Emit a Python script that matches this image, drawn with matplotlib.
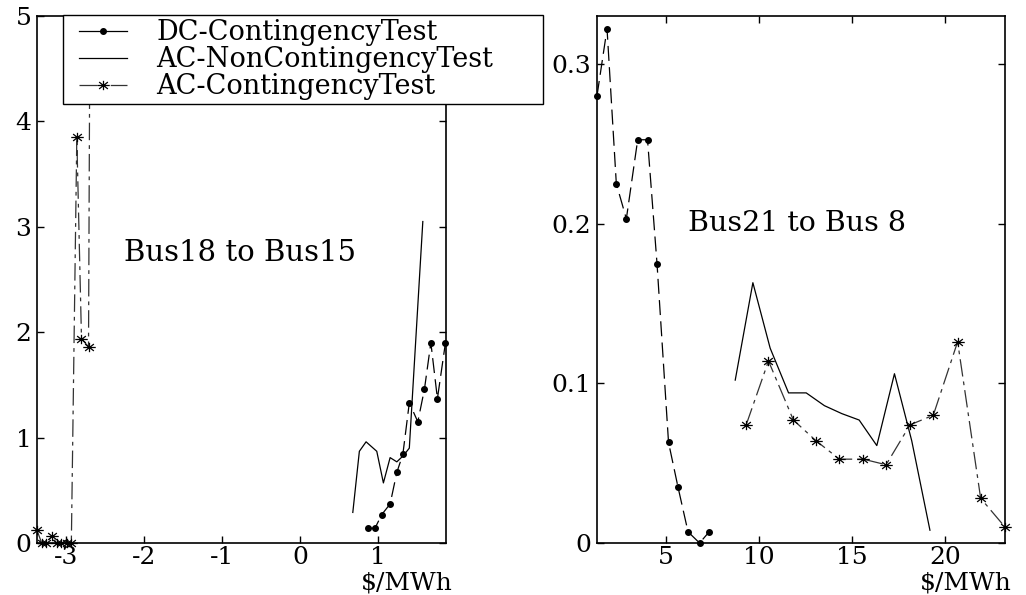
import matplotlib
matplotlib.use("Agg")
import matplotlib.pyplot as plt
from matplotlib.path import Path
from matplotlib.lines import Line2D
from matplotlib.legend_handler import HandlerLine2D

plt.rcParams["font.family"] = "DejaVu Serif"
plt.rcParams["axes.unicode_minus"] = False

# left panel: Bus18 to Bus15
dc_left_x = [0.876, 0.96, 1.047, 1.154, 1.24, 1.317, 1.40, 1.509, 1.594, 1.676, 1.76, 1.863]
dc_left_y = [0.14, 0.14, 0.27, 0.37, 0.67, 0.84, 1.33, 1.15, 1.46, 1.90, 1.37, 1.90]
acn_left_x = [0.676, 0.76, 0.846, 0.983, 1.068, 1.154, 1.24, 1.325, 1.40, 1.573]
acn_left_y = [0.29, 0.87, 0.96, 0.87, 0.57, 0.81, 0.77, 0.83, 0.90, 3.05]
acc_left_x = [-3.37, -3.31, -3.25, -3.18, -3.12, -3.06, -2.99, -2.93, -2.86, -2.80, -2.71, -2.695]
acc_left_y = [0.12, 0.0, 0.0, 0.065, 0.0, 0.0, 0.0, 0.0, 3.85, 1.94, 1.86, 4.5]

# right panel: Bus21 to Bus 8
dc_right_x = [1.27, 1.81, 2.31, 2.85, 3.46, 3.99, 4.50, 5.12, 5.63, 6.17, 6.79, 7.31]
dc_right_y = [0.280, 0.322, 0.225, 0.203, 0.2525, 0.2525, 0.175, 0.063, 0.035, 0.007, 0.0, 0.007]
acn_right_x = [8.71, 9.66, 10.59, 11.58, 12.53, 13.51, 14.45, 15.38, 16.33, 17.28, 18.21, 19.19]
acn_right_y = [0.102, 0.163, 0.122, 0.094, 0.094, 0.086, 0.081, 0.077, 0.061, 0.106, 0.064, 0.008]
acc_right_x = [9.30, 10.50, 11.84, 13.06, 14.32, 15.60, 16.83, 18.12, 19.37, 20.68, 21.92, 23.23]
acc_right_y = [0.074, 0.114, 0.077, 0.064, 0.0525, 0.0525, 0.049, 0.074, 0.080, 0.126, 0.028, 0.010]

labels = ["DC-ContingencyTest", "AC-NonContingencyTest", "AC-ContingencyTest"]

# matlab-ish asterisk, a bit wider than tall
star = Path(
    [(-1, 0), (1, 0), (0, -0.75), (0, 0.75), (-0.7, -0.55), (0.7, 0.55), (-0.7, 0.55), (0.7, -0.55)],
    [Path.MOVETO, Path.LINETO] * 4,
)

dc_style = dict(color="black", lw=0.9, dashes=(12, 5), marker="o", ms=4, clip_on=False)
acn_style = dict(color="black", lw=0.9, clip_on=False)
acc_style = dict(color="0.2", lw=0.9, dashes=(14, 4, 3, 4), marker=star, ms=9,
                 mec="black", mew=0.9, clip_on=False)

fig = plt.figure(figsize=(10.26, 5.95), dpi=100)
ax1 = fig.add_axes([37 / 1026, 1 - 543 / 595, 409 / 1026, 527 / 595])
ax2 = fig.add_axes([597 / 1026, 1 - 543 / 595, 408 / 1026, 527 / 595])

ax1.plot(dc_left_x, dc_left_y, **dc_style)
ax1.plot(acn_left_x, acn_left_y, **acn_style)
ax1.plot(acc_left_x, acc_left_y, **acc_style)
ax1.set_xlim(-3.37, 1.87)
ax1.set_ylim(0, 5)
ax1.set_xticks([-3, -2, -1, 0, 1])
ax1.set_yticks([0, 1, 2, 3, 4, 5])
ax1.text(-0.77, 2.75, "Bus18 to Bus15", ha="center", va="center", fontsize=21)

ax2.plot(dc_right_x, dc_right_y, **dc_style)
ax2.plot(acn_right_x, acn_right_y, **acn_style)
ax2.plot(acc_right_x, acc_right_y, **acc_style)
ax2.set_xlim(1.27, 23.23)
ax2.set_ylim(0, 0.33)
ax2.set_xticks([5, 10, 15, 20])
ax2.set_yticks([0, 0.1, 0.2, 0.3])
ax2.set_yticklabels(["0", "0.1", "0.2", "0.3"])
ax2.text(12.04, 0.2, "Bus21 to Bus 8", ha="center", va="center", fontsize=20.5)

for ax in (ax1, ax2):
    ax.tick_params(direction="in", top=True, right=True, length=5, width=1,
                   labelsize=18, pad=4)
    ax.tick_params(axis="x", pad=2)
    for sp in ax.spines.values():
        sp.set_linewidth(1.2)
    ax.set_xlabel(r"\$/MWh", fontsize=18)
    ax.xaxis.set_label_coords(0.905, -0.054)

handles = [
    Line2D([], [], color="black", lw=0.9, marker="o", ms=4),
    Line2D([], [], color="black", lw=0.9),
    Line2D([], [], color="0.2", lw=0.9, dashes=(14, 4, 3, 4), marker=star, ms=9, mec="black", mew=0.9),
]
leg = ax1.legend(handles, labels, loc="upper left",
                 bbox_to_anchor=(63 / 1026, 1 - 107 / 595, 480 / 1026, 92 / 595),
                 bbox_transform=fig.transFigure, mode="expand", borderaxespad=0,
                 fontsize=19.5, handlelength=2.2, handletextpad=1.1, labelspacing=0.0,
                 borderpad=0.15, fancybox=False, framealpha=1, edgecolor="black",
                 handler_map={Line2D: HandlerLine2D(xpad=0.45)})
leg.get_frame().set_linewidth(1.0)

fig.savefig("out.png", dpi=100)
